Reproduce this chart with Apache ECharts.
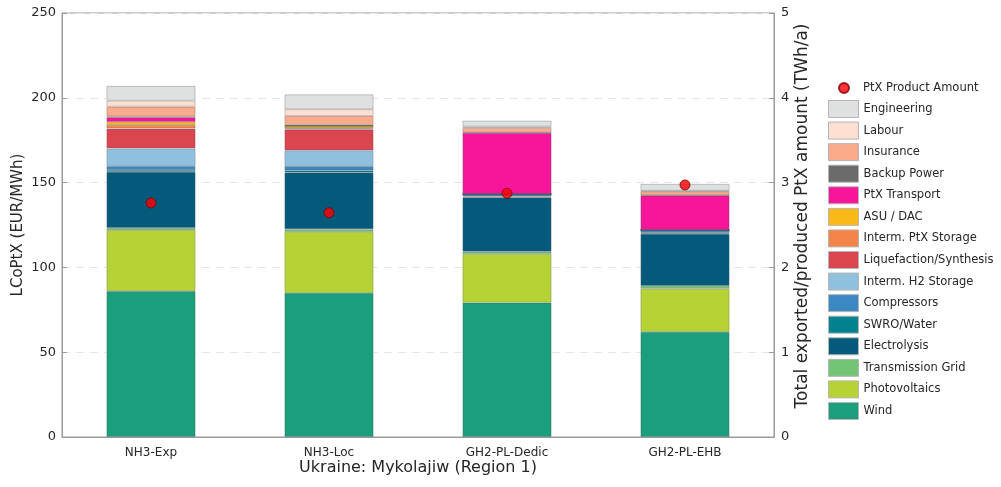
<!DOCTYPE html>
<html><head><meta charset="utf-8">
<script src="https://cdn.jsdelivr.net/npm/echarts@6/dist/echarts.min.js"></script>
<style>html,body{margin:0;padding:0;background:#fff}#c{width:1001px;height:487px}</style>
</head><body><div id="c"></div>
<script>
const categories = ['NH3-Exp', 'NH3-Loc', 'GH2-PL-Dedic', 'GH2-PL-EHB'];
// stacked components, bottom to top
const wind          = [86.0, 85.0, 79.2, 62.0];
const photovoltaics = [36.0, 36.0, 28.7, 25.4];
const transmission  = [1.3, 1.5, 1.4, 1.7];
const electrolysis  = [33.0, 33.5, 32.0, 30.7];
const swro          = [1.0, 1.2, 0.5, 0.5];
const compressors   = [2.4, 2.6, 1.5, 1.8];
const intermH2      = [10.4, 9.2, 0, 0];
const liquefaction  = [11.8, 12.4, 0, 0];
const intermPtX     = [2.0, 0.6, 0, 0];
const asuDac        = [1.9, 1.2, 0, 0];
const ptxTransport  = [2.7, 0, 36.1, 20.2];
const backupPower   = [0.4, 0.8, 0.3, 0.2];
const insurance     = [5.9, 5.3, 2.5, 2.3];
const labour        = [3.5, 3.9, 0.8, 0.4];
const engineering   = [8.7, 8.8, 3.5, 4.0];
const ptxAmount     = [2.76, 2.645, 2.874, 2.972];
const leftTicks = [0, 50, 100, 150, 200, 250];
const rightTicks = [0, 1, 2, 3, 4, 5];

const stackDefs = [
  ['Wind', wind, '#1a9e7b'],
  ['Photovoltaics', photovoltaics, '#b5d334'],
  ['Transmission Grid', transmission, '#74c476'],
  ['Electrolysis', electrolysis, '#035a7b'],
  ['SWRO/Water', swro, '#02818f'],
  ['Compressors', compressors, '#3c88c3'],
  ['Interm. H2 Storage', intermH2, '#8fc0de'],
  ['Liquefaction/Synthesis', liquefaction, '#db4550'],
  ['Interm. PtX Storage', intermPtX, '#f5844a'],
  ['ASU / DAC', asuDac, '#fbb917'],
  ['PtX Transport', ptxTransport, '#f7159a'],
  ['Backup Power', backupPower, '#6b6b6b'],
  ['Insurance', insurance, '#f9ab8c'],
  ['Labour', labour, '#fde0d2'],
  ['Engineering', engineering, '#dfe1e0']
];

const series = stackDefs.map(([name, data, color]) => ({
  name, type: 'bar', stack: 'cost', data, barWidth: '50%',
  itemStyle: { color, borderColor: 'rgba(70,70,70,0.35)', borderWidth: 0.8 },
  emphasis: { disabled: true }
}));
series.push({
  name: 'PtX Product Amount', type: 'scatter', yAxisIndex: 1, data: ptxAmount,
  symbolSize: 10, z: 10,
  itemStyle: { color: '#ff0000', borderColor: '#7a0000', borderWidth: 1 }
});

const font = 'DejaVu Sans';
const chart = echarts.init(document.getElementById('c'));
chart.setOption({
  animation: false,
  textStyle: { fontFamily: font },
  grid: { left: 62, right: 227, top: 13, bottom: 50, show: true, borderColor: '#9a9a9a', borderWidth: 1,
    containLabel: false, outerBoundsMode: 'none' },
  legend: [
    {
      data: [{ name: 'PtX Product Amount', icon: 'circle' }],
      orient: 'vertical', left: 838, top: 82, itemWidth: 10, itemHeight: 10, padding: 0,
      textStyle: { fontFamily: font, fontSize: 11.5, color: '#262626', padding: [0, 0, 0, 9] }
    },
    {
      data: stackDefs.map(d => d[0]).reverse().map(n => ({ name: n, icon: 'rect' })),
      orient: 'vertical', left: 828, top: 100, itemWidth: 30, itemHeight: 17, itemGap: 3.57, padding: 0,
      itemStyle: { borderColor: '#b5b5b5', borderWidth: 1 },
      textStyle: { fontFamily: font, fontSize: 11.5, color: '#262626' }
    }
  ],
  xAxis: {
    type: 'category', data: categories,
    name: 'Ukraine: Mykolajiw (Region 1)', nameLocation: 'middle', nameGap: 23, nameMoveOverlap: false,
    nameTextStyle: { fontFamily: font, fontSize: 16, color: '#262626' },
    axisLine: { lineStyle: { color: '#9a9a9a' } },
    axisTick: { show: false },
    axisLabel: { fontFamily: font, fontSize: 12, color: '#262626', margin: 10 }
  },
  yAxis: [
    {
      type: 'value', min: 0, max: 250, interval: 50,
      name: 'LCoPtX (EUR/MWh)', nameLocation: 'middle', nameGap: 36, nameMoveOverlap: false,
      nameTextStyle: { fontFamily: font, fontSize: 15, color: '#262626' },
      axisLine: { show: true, lineStyle: { color: '#9a9a9a' } },
      axisTick: { show: true, inside: true, length: 5, lineStyle: { color: '#9a9a9a' } },
      axisLabel: { fontFamily: font, fontSize: 13, color: '#262626', margin: 6,
        formatter: v => leftTicks.includes(v) ? String(v) : '' },
      splitLine: { show: true, lineStyle: { color: '#e6e6e6', type: [8, 6], width: 1.2 } }
    },
    {
      type: 'value', min: 0, max: 5, interval: 1, position: 'right',
      name: 'Total exported/produced PtX amount (TWh/a)', nameLocation: 'middle', nameGap: 20,
      nameMoveOverlap: false, nameRotate: 90,
      nameTextStyle: { fontFamily: font, fontSize: 17, color: '#262626', padding: [0, 0, 0, 18] },
      axisLine: { show: true, lineStyle: { color: '#9a9a9a' } },
      axisTick: { show: true, inside: true, length: 5, lineStyle: { color: '#9a9a9a' } },
      axisLabel: { fontFamily: font, fontSize: 13, color: '#262626', margin: 7,
        formatter: v => rightTicks.includes(v) ? String(v) : '' },
      splitLine: { show: false }
    }
  ],
  series
});
</script></body></html>
